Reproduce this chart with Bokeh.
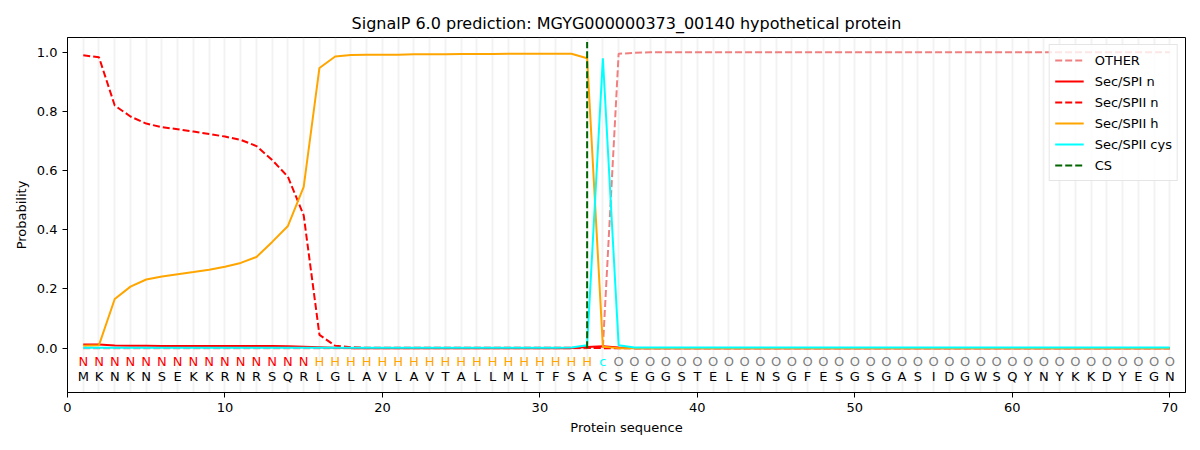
from bokeh.plotting import figure
from bokeh.models import ColumnDataSource, FixedTicker, PrintfTickFormatter, Range1d, Legend, LegendItem
from bokeh.core.properties import value
from bokeh.embed import file_html
from bokeh.resources import INLINE

# ---------------- data ----------------
sequence = list("MKNKNSEKKRNRSQRLGLAVLAVTALLMLTFSACSEGGSTELENSGFESGSGASIDGWSQYNYKKDYEGN")
region_labels = ["N"] * 15 + ["H"] * 18 + ["c"] + ["O"] * 36
positions = list(range(1, 71))

other = [0.0] * 33 + [0.003, 0.995, 0.998] + [1.0] * 34

sec_spi_n = [0.012, 0.012, 0.009, 0.008, 0.008, 0.007, 0.007, 0.007, 0.007, 0.007,
             0.007, 0.007, 0.007, 0.006, 0.005, 0.003, 0.001] + [0.0] * 15 + \
            [0.004, 0.006, 0.002] + [0.0] * 35

sec_spii_n = [0.99, 0.983, 0.82, 0.783, 0.759, 0.747, 0.74, 0.732, 0.724, 0.715,
              0.704, 0.683, 0.636, 0.579, 0.449, 0.045, 0.008, 0.003] + [0.001] * 15 + \
             [0.0] * 37

sec_spii_h = [0.008, 0.01, 0.166, 0.208, 0.232, 0.242, 0.25, 0.257, 0.265, 0.275,
              0.288, 0.308, 0.359, 0.413, 0.545, 0.947, 0.986, 0.991, 0.992, 0.992,
              0.992, 0.993, 0.993, 0.993, 0.994, 0.994, 0.994, 0.995, 0.995, 0.995,
              0.995, 0.995, 0.98, 0.005] + [0.0] * 36

sec_spii_cys = [0.001] * 31 + [0.002, 0.01, 0.98, 0.01] + [0.002] * 35

cs_position = 33

label_colors = {"N": "red", "H": "orange", "c": "cyan", "O": "gray"}

x_ticks = [0, 10, 20, 30, 40, 50, 60, 70]
y_ticks = [0.0, 0.2, 0.4, 0.6, 0.8, 1.0]

# ---------------- figure ----------------
FONT = "DejaVu Sans"
p = figure(width=1200, height=450, output_backend="svg", toolbar_location=None,
           x_range=Range1d(0, 71), y_range=Range1d(-0.15, 1.05),
           title="SignalP 6.0 prediction: MGYG000000373_00140 hypothetical protein",
           min_border_left=67, min_border_right=15, min_border_top=37, min_border_bottom=58)

p.title.align = "center"
p.title.text_font = FONT
p.title.text_font_style = "normal"
p.title.text_font_size = "16px"
p.title.text_color = "black"

p.outline_line_color = "black"
p.outline_line_width = 1

for ax in (p.xaxis[0], p.yaxis[0]):
    ax.major_label_text_font = FONT
    ax.major_label_text_font_size = "13px"
    ax.major_label_text_color = "black"
    ax.axis_label_text_font = FONT
    ax.axis_label_text_font_size = "13px"
    ax.axis_label_text_font_style = "normal"
    ax.axis_label_text_color = "black"
    ax.major_tick_in = 0
    ax.major_tick_out = 5
    ax.minor_tick_in = 0
    ax.minor_tick_out = 0
    ax.axis_line_color = "black"
    ax.major_tick_line_color = "black"

p.xaxis.axis_label = "Protein sequence"
p.yaxis.axis_label = "Probability"
p.xaxis.ticker = FixedTicker(ticks=x_ticks)
p.yaxis.ticker = FixedTicker(ticks=y_ticks)
p.yaxis.formatter = PrintfTickFormatter(format="%.1f")

p.ygrid.grid_line_color = None
p.xgrid.ticker = FixedTicker(ticks=positions)
p.xgrid.grid_line_color = "#d3d3d3"
p.xgrid.grid_line_alpha = 0.3
p.xgrid.grid_line_width = 2

src = ColumnDataSource(dict(x=positions, other=other, spi_n=sec_spi_n, spii_n=sec_spii_n,
                            spii_h=sec_spii_h, cys=sec_spii_cys))

r_other = p.line("x", "other", source=src, line_color="#f08080", line_width=2, line_dash="7 3")
r_spi_n = p.line("x", "spi_n", source=src, line_color="red", line_width=2)
r_spii_n = p.line("x", "spii_n", source=src, line_color="red", line_width=2, line_dash="7 3")
r_spii_h = p.line("x", "spii_h", source=src, line_color="orange", line_width=2)
r_cys = p.line("x", "cys", source=src, line_color="cyan", line_width=2)
r_cs = p.line([cs_position, cs_position], [0, 1.035], line_color="darkgreen", line_width=2,
              line_dash="7 3")

# sequence letters and region labels
lab_src = ColumnDataSource(dict(x=positions, lab=region_labels,
                                col=[label_colors[l] for l in region_labels],
                                seq=sequence,
                                y1=[-0.045] * len(positions), y2=[-0.095] * len(positions)))
p.text("x", "y1", text="lab", source=lab_src, text_color="col", text_font=value(FONT),
       text_font_size="13px", text_align="center", text_baseline="middle")
p.text("x", "y2", text="seq", source=lab_src, text_color="black", text_font=value(FONT),
       text_font_size="13px", text_align="center", text_baseline="middle")

legend = Legend(items=[
    LegendItem(label="OTHER", renderers=[r_other]),
    LegendItem(label="Sec/SPI n", renderers=[r_spi_n]),
    LegendItem(label="Sec/SPII n", renderers=[r_spii_n]),
    LegendItem(label="Sec/SPII h", renderers=[r_spii_h]),
    LegendItem(label="Sec/SPII cys", renderers=[r_cys]),
    LegendItem(label="CS", renderers=[r_cs]),
], location="top_right")
legend.label_text_font = FONT
legend.label_text_font_size = "13px"
legend.label_text_color = "black"
legend.glyph_width = 29
legend.glyph_height = 20
legend.label_height = 20
legend.label_standoff = 11
legend.spacing = 1
legend.padding = 5
legend.margin = 7
legend.border_line_color = "#cccccc"
legend.border_line_width = 1
legend.background_fill_alpha = 0.8
p.add_layout(legend)

open("out.html", "w").write(file_html(p, INLINE))
